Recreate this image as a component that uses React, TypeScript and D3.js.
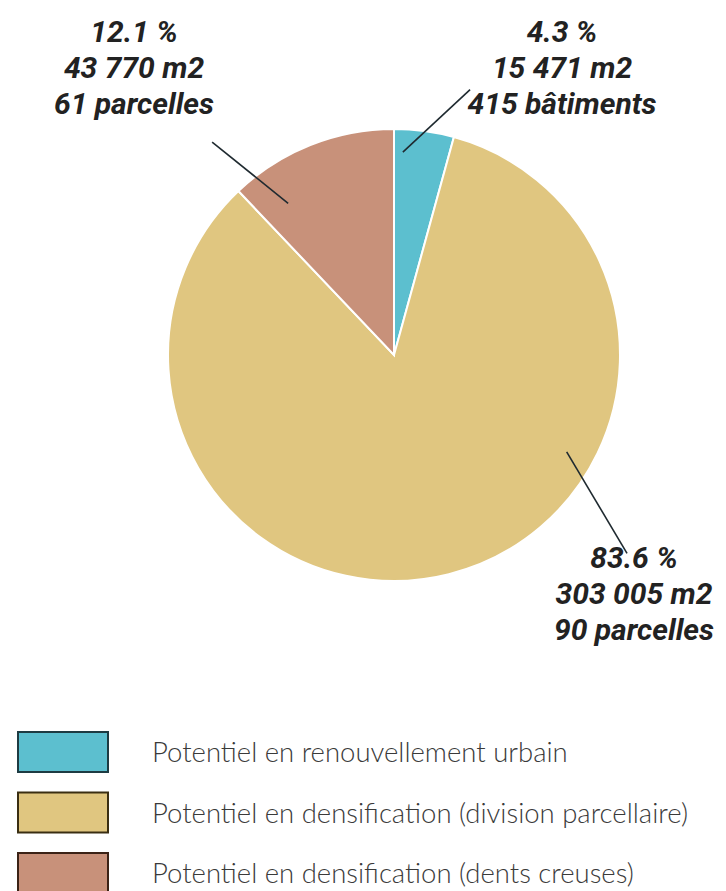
import React from "react";
import * as d3 from "d3";

const categories = [
  "Potentiel en renouvellement urbain",
  "Potentiel en densification (division parcellaire)",
  "Potentiel en densification (dents creuses)",
];
const areas = [15471, 303005, 43770];
const percents = ["4.3 %", "83.6 %", "12.1 %"];
const areaLabels = ["15 471 m2", "303 005 m2", "43 770 m2"];
const countLabels = ["415 bâtiments", "90 parcelles", "61 parcelles"];
const colors = ["#5cbfcf", "#e0c680", "#c8917a"];
const legendBorders = ["#1d3b42", "#3a2e12", "#3b2216"];

// label layout: leader line (angle deg from top, radii) and text anchor
const leaderStartAngle = [2.5, 119.3, -34.9];
const leaderStartR = [203, 198, 185];
const leaderEndAngle = [16, 130.4, -40.5];
const leaderEndR = [276, 306, 280];
const labelX = [562, 634, 134];
const labelY = [42, 568, 42];

export default function App() {
  const W = 726;
  const H = 891;
  const cx = 394;
  const cy = 355;
  const R = 226;

  const pie = d3
    .pie<number>()
    .sort(null)
    .value((d) => d)
    .startAngle(0)
    .endAngle(2 * Math.PI);
  const arcs = pie(areas);
  const arcGen = d3.arc<d3.PieArcDatum<number>>().innerRadius(0).outerRadius(R);

  const polar = (deg: number, r: number) => {
    const a = (deg * Math.PI) / 180;
    return [cx + r * Math.sin(a), cy - r * Math.cos(a)];
  };

  const legendY = d3.scalePoint<number>().domain([0, 1, 2]).range([732, 853]);

  return (
    <svg
      width={W}
      height={H}
      style={{ position: "absolute", left: 0, top: 0, display: "block", background: "#fff" }}
    >
      <g transform={`translate(${cx},${cy})`}>
        {arcs.map((a, i) => (
          <path key={i} d={arcGen(a) || ""} fill={colors[i]} stroke="#fff" strokeWidth={2} />
        ))}
      </g>
      {areas.map((_, i) => {
        const [x1, y1] = polar(leaderStartAngle[i], leaderStartR[i]);
        const [x2, y2] = polar(leaderEndAngle[i], leaderEndR[i]);
        return <line key={i} x1={x1} y1={y1} x2={x2} y2={y2} stroke="#1f2a30" strokeWidth={1.6} />;
      })}
      {areas.map((_, i) =>
        [percents[i], areaLabels[i], countLabels[i]].map((t, j) => (
          <text
            key={`${i}-${j}`}
            x={labelX[i]}
            y={labelY[i] + j * 36}
            textAnchor="middle"
            fontFamily="Roboto, sans-serif"
            fontWeight={700}
            fontStyle="italic"
            fontSize={30}
            fill="#222"
          >
            {t}
          </text>
        ))
      )}
      {categories.map((c, i) => (
        <g key={c} transform={`translate(0,${legendY(i)})`}>
          <rect x={18} y={0} width={90} height={40} fill={colors[i]} stroke={legendBorders[i]} strokeWidth={2} />
          <text
            x={152}
            y={30}
            fontFamily="Lato, sans-serif"
            fontWeight={300}
            fontSize={27.5}
            fill="#3a3a3a"
          >
            {c}
          </text>
        </g>
      ))}
    </svg>
  );
}
